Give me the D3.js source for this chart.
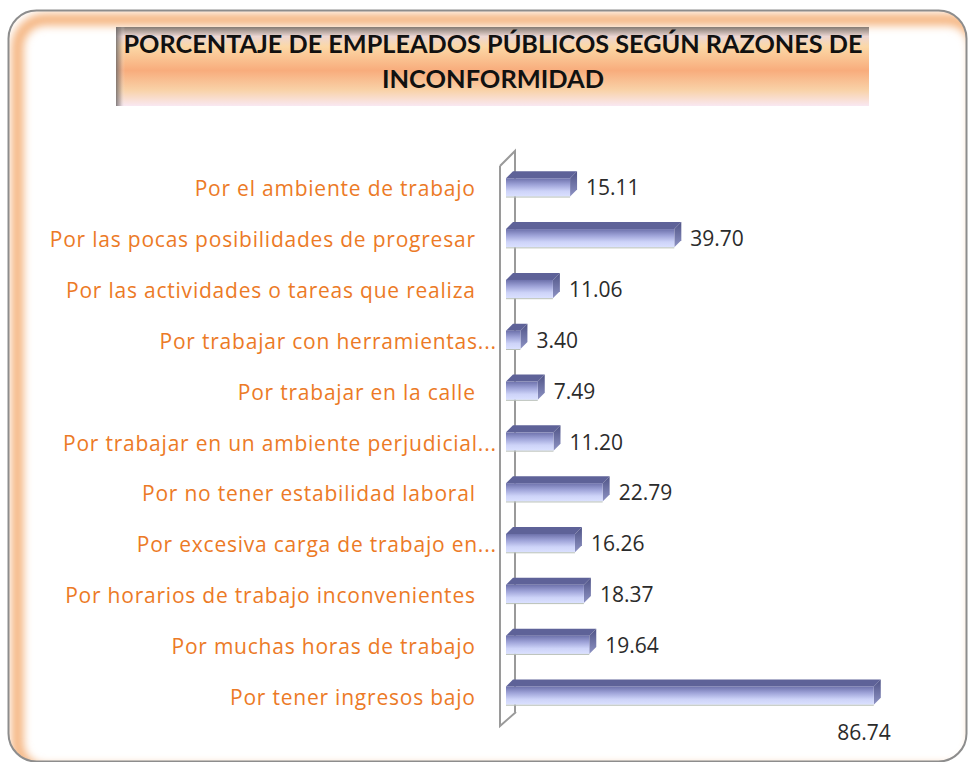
<!DOCTYPE html>
<html><head><meta charset="utf-8">
<script src="https://cdn.jsdelivr.net/npm/d3@7"></script>
<style>
html,body{margin:0;padding:0;background:#fff;}
svg{display:block;}
</style></head>
<body>
<script>
const titleLines = ["PORCENTAJE DE EMPLEADOS PÚBLICOS SEGÚN RAZONES DE", "INCONFORMIDAD"];
const categories = [
  "Por el ambiente de trabajo",
  "Por las pocas posibilidades de progresar",
  "Por las actividades o tareas que realiza",
  "Por trabajar con herramientas...",
  "Por trabajar en la calle",
  "Por trabajar en un ambiente perjudicial...",
  "Por no tener estabilidad laboral",
  "Por excesiva carga de trabajo en...",
  "Por horarios de trabajo inconvenientes",
  "Por muchas horas de trabajo",
  "Por tener ingresos bajo"
];
const values = [15.11, 39.70, 11.06, 3.40, 7.49, 11.20, 22.79, 16.26, 18.37, 19.64, 86.74];

const W = 968, H = 762;
const svg = d3.select("body").append("svg").attr("width", W).attr("height", H);
const defs = svg.append("defs");

// ---------- frame ----------
const fx = 8.5, fy = 10.5, fw = 958, fh = 751, fr = 28;
defs.append("clipPath").attr("id", "frameClip")
  .append("rect").attr("x", fx).attr("y", fy).attr("width", fw).attr("height", fh).attr("rx", fr);
const blur = defs.append("filter").attr("id", "glowBlur").attr("x", "-10%").attr("y", "-10%").attr("width", "120%").attr("height", "120%");
blur.append("feGaussianBlur").attr("stdDeviation", 4);
svg.append("rect").attr("x", fx).attr("y", fy).attr("width", fw).attr("height", fh).attr("rx", fr).attr("fill", "#fff");
svg.append("g").attr("clip-path", "url(#frameClip)")
  .append("rect").attr("x", fx + 9).attr("y", fy + 9).attr("width", fw).attr("height", fh).attr("rx", fr)
  .attr("fill", "none").attr("stroke", "#f5b682").attr("stroke-width", 12).attr("filter", "url(#glowBlur)");
svg.append("rect").attr("x", fx).attr("y", fy).attr("width", fw).attr("height", fh).attr("rx", fr)
  .attr("fill", "none").attr("stroke", "#8d8d8d").attr("stroke-width", 2);

// ---------- title box ----------
const tb = {x: 116, y: 27, w: 753, h: 79};
const tg = defs.append("linearGradient").attr("id", "titleGrad").attr("x1", 0).attr("y1", 0).attr("x2", 0).attr("y2", 1);
[[0, "#857b73"], [0.06, "#b9a9a3"], [0.12, "#ecd6d3"], [0.25, "#fcd8a6"], [0.55, "#f8ac7c"], [0.8, "#f9d2a8"], [1, "#f9e8f2"]]
  .forEach(([o, c]) => tg.append("stop").attr("offset", o).attr("stop-color", c));
const tgl = defs.append("linearGradient").attr("id", "titleLeft").attr("x1", 0).attr("y1", 0).attr("x2", 1).attr("y2", 0);
[[0, "#6e6a6a", 0.85], [0.5, "#8d8585", 0.4], [1, "#ffffff", 0]]
  .forEach(([o, c, a]) => tgl.append("stop").attr("offset", o).attr("stop-color", c).attr("stop-opacity", a));
svg.append("rect").attr("x", tb.x).attr("y", tb.y).attr("width", tb.w).attr("height", tb.h).attr("fill", "url(#titleGrad)");
svg.append("rect").attr("x", tb.x).attr("y", tb.y).attr("width", 9).attr("height", tb.h).attr("fill", "url(#titleLeft)");
const titleWidths = [739, 222];
titleLines.forEach((t, i) => {
  svg.append("text").attr("x", 493).attr("y", 53 + i * 35).attr("text-anchor", "middle")
    .attr("font-family", "Lato, 'Open Sans', sans-serif").attr("font-weight", "bold").attr("font-size", 25)
    .attr("fill", "#111").attr("textLength", titleWidths[i]).attr("lengthAdjust", "spacingAndGlyphs").text(t);
});

// ---------- scales ----------
const x = d3.scaleLinear().domain([0, 100]).range([506, 930]);
const y = d3.scaleBand().domain(categories).range([162, 721]).paddingInner(0.64).paddingOuter(0.32);
const depth = 7;

// ---------- wall ----------
const wall = svg.append("g").attr("fill", "none").attr("stroke", "#9a9a9a").attr("stroke-width", 2);
wall.append("path").attr("d", `M500,166 L515,151 L515,712`);
wall.append("path").attr("d", `M500,166 L500,726 L516,712`);

// ---------- bars ----------
const fg = defs.append("linearGradient").attr("id", "barFront").attr("x1", 0).attr("y1", 0).attr("x2", 0).attr("y2", 1);
[[0, "#6d71ab"], [0.35, "#9ea3d8"], [0.7, "#cdd3f8"], [1, "#dbe1ff"]]
  .forEach(([o, c]) => fg.append("stop").attr("offset", o).attr("stop-color", c));
const sg = defs.append("linearGradient").attr("id", "barSide").attr("x1", 0).attr("y1", 0).attr("x2", 0).attr("y2", 1);
[[0, "#4f5386"], [1, "#8e93c4"]].forEach(([o, c]) => sg.append("stop").attr("offset", o).attr("stop-color", c));

const bars = svg.append("g").selectAll("g").data(categories).join("g");
bars.each(function(c, i) {
  const g = d3.select(this);
  const x0 = x(0), x1 = x(values[i]), y0 = y(c), bh = y.bandwidth();
  g.append("path").attr("d", `M${x0},${y0} L${x0 + depth},${y0 - depth} L${x1 + depth},${y0 - depth} L${x1},${y0} Z`)
    .attr("fill", "#5e6298");
  g.append("path").attr("d", `M${x1},${y0} L${x1 + depth},${y0 - depth} L${x1 + depth},${y0 + bh - depth} L${x1},${y0 + bh} Z`)
    .attr("fill", "url(#barSide)");
  g.append("rect").attr("x", x0).attr("y", y0).attr("width", x1 - x0).attr("height", bh).attr("fill", "url(#barFront)");
  g.append("line").attr("x1", x0).attr("x2", x1).attr("y1", y0 + bh + 0.5).attr("y2", y0 + bh + 0.5)
    .attr("stroke", "#b9c0b8").attr("stroke-width", 1);
});

// ---------- font fitting ----------
const labelFont = "'Open Sans', Lato, sans-serif";
const fs = 21;
const longest = "Por las pocas posibilidades de progresar";
const probe = svg.append("text").attr("font-family", labelFont).attr("font-size", fs).text(longest);
const probeW = probe.node().getComputedTextLength();
probe.remove();
const ls = Math.max(0, (426 - probeW) / longest.length);

// ---------- category labels ----------
const catLabels = svg.append("g").attr("font-family", labelFont).attr("font-size", fs)
  .attr("letter-spacing", ls).attr("fill", "#ec7a26");
categories.forEach(c => {
  const trunc = c.endsWith("...");
  catLabels.append("text").attr("x", (trunc ? 496 : 475) + ls).attr("y", y(c) + y.bandwidth() / 2 + 1)
    .attr("dominant-baseline", "central").attr("text-anchor", "end").text(c);
});

// ---------- value labels ----------
const valLabels = svg.append("g").attr("font-family", labelFont).attr("font-size", fs).attr("fill", "#2b2b2b");
categories.forEach((c, i) => {
  const v = values[i];
  const xe = x(v) + depth;
  const yc = y(c) + y.bandwidth() / 2;
  if (xe + 70 > 930) {
    valLabels.append("text").attr("x", xe + 10).attr("y", yc + 36).attr("dominant-baseline", "central")
      .attr("text-anchor", "end").text(v.toFixed(2));
  } else {
    valLabels.append("text").attr("x", xe + 9).attr("y", yc).attr("dominant-baseline", "central").text(v.toFixed(2));
  }
});
</script>
</body></html>
